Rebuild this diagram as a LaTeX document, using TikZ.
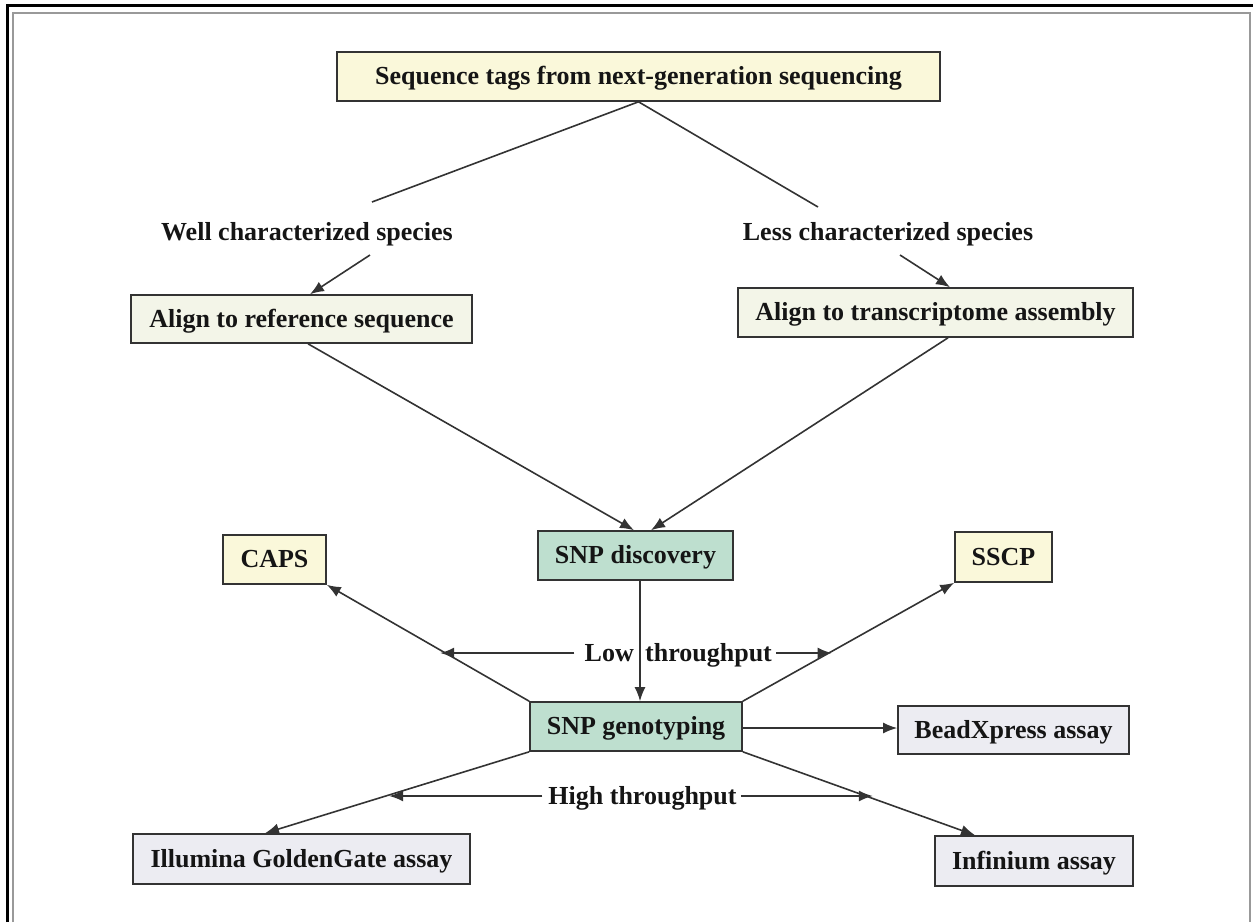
\documentclass[tikz,border=0pt]{standalone}
\usepackage{fontspec}
\setmainfont{Liberation Serif}
\usetikzlibrary{arrows.meta,calc}
\definecolor{lnc}{HTML}{333333}
\definecolor{txc}{HTML}{151515}
\definecolor{yel}{HTML}{FAF8DA}
\definecolor{pale}{HTML}{F3F5E8}
\definecolor{grn}{HTML}{BEDFCF}
\definecolor{lav}{HTML}{ECECF2}
\begin{document}
\begin{tikzpicture}[x=1pt,y=-1pt,
  box/.style={draw=lnc, line width=1.6pt, inner sep=0pt, minimum height=49pt,
    text height=17pt, text depth=1pt,
    text=txc, font=\bfseries\fontsize{26}{30}\selectfont},
  lbl/.style={inner sep=0pt, text=txc, text height=17pt, text depth=1pt,
    font=\bfseries\fontsize{26}{30}\selectfont},
  conn/.style={draw=lnc, line width=1.6pt},
  arr/.style={conn, -{Latex[length=14pt,width=11pt]}}]
\useasboundingbox (0,0) rectangle (1253,922);
% frame
\draw[line width=3pt, black] (7,922) -- (7,5) -- (1253,5);
\draw[line width=2.5pt, gray!80] (13,922) -- (13,13) -- (1250,13) -- (1250,922);
% nodes
\node[box, fill=yel, minimum width=603pt] (top) at (638.5,76.5) {Sequence tags from next-generation sequencing};
\node[lbl] (well) at (307,232) {Well characterized species};
\node[lbl] (less) at (888,232) {Less characterized species};
\node[box, fill=pale, minimum width=341pt, minimum height=48pt] (alref) at (301.5,319) {Align to reference sequence};
\node[box, fill=pale, minimum width=395pt] (altr) at (935.5,312.5) {Align to transcriptome assembly};
\node[box, fill=grn, minimum width=195pt] (snpd) at (635.5,555.5) {SNP discovery};
\node[box, fill=yel, minimum width=103pt] (caps) at (274.5,559.5) {CAPS};
\node[box, fill=yel, minimum width=97pt, minimum height=50pt] (sscp) at (1003.5,557) {SSCP};
\node[box, fill=grn, minimum width=212pt] (snpg) at (636,726.5) {SNP genotyping};
\node[box, fill=lav, minimum width=231pt, minimum height=48pt] (bead) at (1013.5,730) {BeadXpress assay};
\node[box, fill=lav, minimum width=337pt, minimum height=50pt] (illu) at (301.5,859) {Illumina GoldenGate assay};
\node[box, fill=lav, minimum width=198pt, minimum height=50pt] (infi) at (1034,861) {Infinium assay};
\node[lbl, anchor=east] (low) at (634,653) {Low};
\node[lbl, anchor=west] (thr) at (645,653) {throughput};
\node[lbl] (high) at (642.5,796) {High throughput};
% free ends
\coordinate (tl) at (372,202);
\coordinate (tr) at (818,207);
\coordinate (wa) at (370,255);
\coordinate (la) at (900,255);
% connectors
\draw[conn] (top.south) -- (tl);
\draw[conn] (top.south) -- (tr);
\draw[arr] (wa) -- (alref.north -| 310,0);
\draw[arr] (la) -- (altr.north -| 950,0);
\draw[arr] (alref.south -| 308,0) -- (snpd.north -| 634,0);
\draw[arr] (altr.south -| 948,0) -- (snpd.north -| 651,0);
\draw[arr] (snpd.south -| 640,0) -- (snpg.north -| 640,0);
\draw[arr] (snpg.north west) -- (caps.south east);
\draw[arr] (snpg.north east) -- (sscp.south west);
\draw[arr] ([yshift=-1.5pt]snpg.east) -- ([yshift=-1.5pt]snpg.east -| bead.west);
\draw[arr] (snpg.south west) -- (illu.north -| 265,0);
\draw[arr] (snpg.south east) -- (infi.north -| 975,0);
\coordinate (lowL) at ($(snpg.north west)!0.44!(caps.south east)$);
\coordinate (lowR) at ($(snpg.north east)!0.42!(sscp.south west)$);
\coordinate (hiL) at ($(snpg.south west)!0.53!(illu.north -| 265,0)$);
\coordinate (hiR) at ($(snpg.south east)!0.56!(infi.north -| 975,0)$);
\draw[arr] ([xshift=-10pt]low.west) -- (lowL |- low.west);
\draw[arr] ([xshift=4pt]thr.east) -- (lowR |- thr.east);
\draw[arr] ([xshift=-6pt]high.west) -- (hiL |- high.west);
\draw[arr] ([xshift=4pt]high.east) -- (hiR |- high.east);
\end{tikzpicture}
\end{document}
